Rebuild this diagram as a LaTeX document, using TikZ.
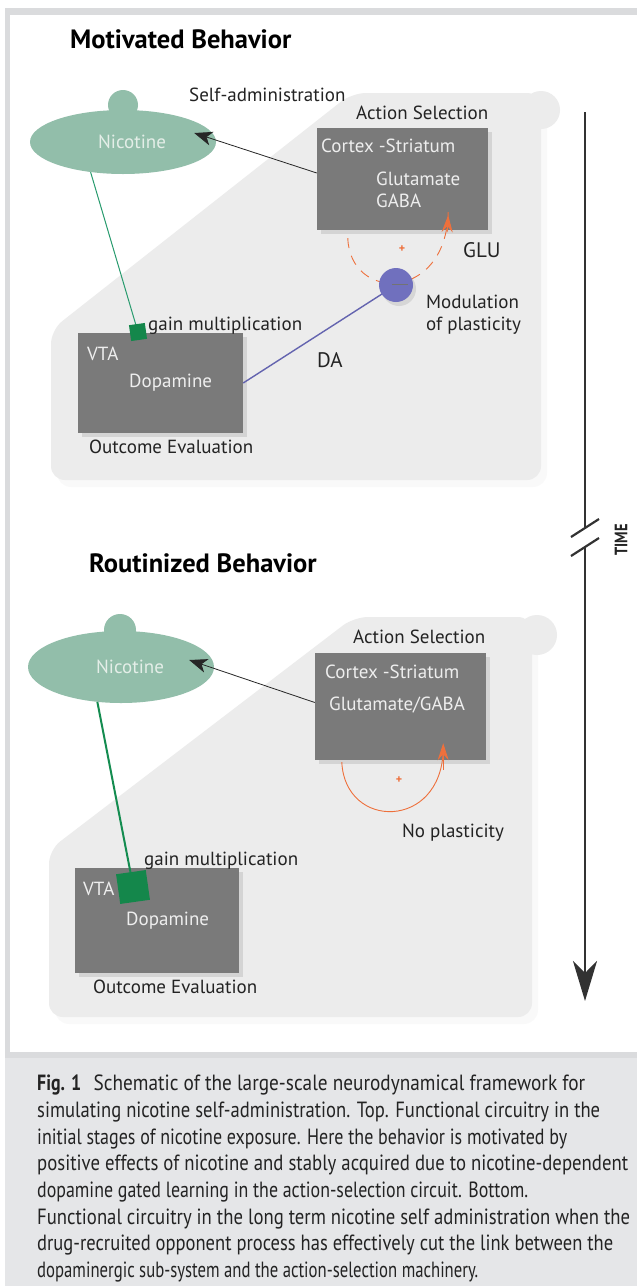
\documentclass[tikz,border=0pt]{standalone}
\usepackage{fontspec}
\usepackage{graphicx}
\setmainfont{PT Sans}
\usetikzlibrary{arrows.meta,shapes.geometric,shadows,calc}
\definecolor{nicgreen}{RGB}{146,190,170}
\definecolor{nictext}{RGB}{228,238,232}
\definecolor{boxgray}{RGB}{122,122,122}
\definecolor{boxtext}{RGB}{238,238,238}
\definecolor{bgshape}{RGB}{236,236,236}
\definecolor{orangec}{RGB}{238,112,60}
\definecolor{modblue}{RGB}{112,112,190}
\definecolor{dablue}{RGB}{100,100,175}
\definecolor{glinea}{RGB}{40,155,110}
\definecolor{glineb}{RGB}{20,140,80}
\definecolor{sqgreen}{RGB}{20,135,75}
\definecolor{framec}{RGB}{218,219,221}
\definecolor{capbg}{RGB}{229,230,232}
\definecolor{labelc}{RGB}{35,35,35}
\definecolor{timec}{RGB}{50,50,50}
\newcommand\lblf{\fontsize{19}{22}\selectfont}
\newcommand\bigf{\fontsize{21}{25}\selectfont}
\newcommand\titf{\fontsize{26.5}{30}\selectfont\bfseries}
\newcommand\capf{\fontsize{22}{26}\selectfont}
\newcommand\capline[2]{\resizebox{#1pt}{\height}{#2}}
\begin{document}
\begin{tikzpicture}[x=1pt,y=-1pt,
  lbl/.style={inner sep=0pt, anchor=base west, font=\lblf, text=labelc},
  biglbl/.style={lbl, font=\bigf},
  boxlbl/.style={lbl, text=boxtext},
  title/.style={inner sep=0pt, anchor=base west, font=\titf, text=black},
  caption/.style={inner sep=0pt, anchor=base west, font=\capf, text=labelc},
  darkbox/.style={rectangle, fill=boxgray, draw=none, inner sep=0pt,
    drop shadow={opacity=0.22, shadow xshift=4pt, shadow yshift=-4pt}},
  nicell/.style={ellipse, fill=nicgreen, draw=none, inner sep=0pt},
  bgfill/.style={fill=bgshape, rounded corners=14pt,
    drop shadow={opacity=0.045, shadow xshift=6pt, shadow yshift=-7pt}},
  sarrow/.style={draw=black!85, line width=0.8pt,
    -{Stealth[length=18pt, width=14pt, inset=5pt]}},
  orarrow/.style={draw=orangec, line width=0.9pt,
    -{Stealth[length=17pt, width=11pt, inset=6pt, fill=orangec]}},
  gsq/.style={rectangle, fill=sqgreen, draw=none, inner sep=0pt},
  plus/.style={inner sep=0pt, text=orangec, font=\fontsize{12}{12}\selectfont\bfseries},
]
\useasboundingbox (0,0) rectangle (637,1286);
% frame and caption background
\fill[white] (0,0) rectangle (637,1286);
\fill[framec] (4.5,8) rectangle (637,15);
\fill[framec] (4.5,8) rectangle (10,1058);
\fill[capbg] (4.5,1052) rectangle (637,1286);
\fill[framec] (4.5,1052) rectangle (637,1058);

% ===== top panel =====
\fill[bgfill] (352,93) -- (541,93) -- (541,480) -- (51,480) -- (51,330) -- cycle;
\fill[bgshape] (541,110) circle (19);

\node[title] (t1) at (70,48) {Motivated Behavior};

\fill[nicgreen] (123,105) circle (15);
\node[nicell, minimum width=186pt, minimum height=64pt] (nic1) at (123,142) {};
\node[lbl, text=nictext] (nl1) at (98,148) {Nicotine};
\node[lbl] (sa1) at (189,101) {Self-administration};
\node[lbl] (as1) at (356,119) {Action Selection};

\node[darkbox, minimum width=171pt, minimum height=102pt] (cs1) at (402.5,179) {};
\node[boxlbl] (cst1) at (321,152) {Cortex -Striatum};
\node[boxlbl] (glu1) at (376,185) {Glutamate};
\node[boxlbl] (gaba1) at (376,207) {GABA};

\draw[sarrow] ([yshift=6pt]cs1.west) -- ([xshift=-22pt,yshift=9pt]nic1.east);

\draw[orangec, line width=0.9pt, dash pattern=on 10pt off 8pt]
  ($(cs1.south west)+(31,8)$) .. controls (350,302) and (446,302) .. ($(cs1.south east)+(-40,-18)$);
\draw[orarrow] ($(cs1.south east)+(-41,2)$) -- ($(cs1.south east)+(-40,-15)$);
\node[plus] (p1) at (402,249) {+};
\node[biglbl] (glul) at (463,257) {GLU};

\node[darkbox, minimum width=165pt, minimum height=100pt] (vta1) at (160.5,383) {};
\node[boxlbl] (vtal1) at (87,360) {VTA};
\node[boxlbl] (dop1) at (129,387) {Dopamine};
\node[lbl] (oe1) at (89,453) {Outcome Evaluation};

\draw[dablue, line width=1.4pt] (vta1.east) -- (396,285);
\node[circle, fill=modblue, minimum size=34pt, inner sep=0pt,
  drop shadow={opacity=0.2, shadow xshift=3pt, shadow yshift=-4pt}] (mod1) at (396,285) {};
\draw[black!55, line width=0.5pt] ($(mod1.center)+(-4,-1)$) -- ($(mod1.center)+(12,-1)$);
\node[lbl] (modl) at (426,308) {Modulation};
\node[lbl] (modl2) at (426,330) {of plasticity};
\node[biglbl] (dal) at (317,367) {DA};

\draw[glinea, line width=1pt] (nic1.223) -- (138,332);
\node[gsq, minimum size=16pt, rotate=8] (sq1) at (138,332) {};
\node[lbl] (gm1) at (148,330) {gain multiplication};

% ===== time axis =====
\coordinate (tTop) at (585,112);
\coordinate (tB1) at (585,529);
\coordinate (tB2) at (585,547);
\coordinate (tEnd) at (585,1001);
\draw[timec, line width=2.6pt] (tTop) -- (tB1);
\draw[timec, line width=2.6pt, -{Stealth[length=40pt, width=24pt, inset=12pt]}] (tB2) -- (tEnd);
\draw[timec, line width=2.2pt] (571,537) -- (599,519);
\draw[timec, line width=2.2pt] (571,556) -- (599,538);
\node[inner sep=0pt, rotate=90, text=labelc, font=\fontsize{18}{18}\selectfont\bfseries] (time) at (621,540) {\scalebox{0.8}[1]{TIME}};

% ===== bottom panel =====
\fill[bgfill] (354,617) -- (532,617) -- (532,1017) -- (49,1017) -- (49,850) -- cycle;
\fill[bgshape] (537,635) circle (20);

\node[title] (t2) at (89,572) {Routinized Behavior};

\fill[nicgreen] (120,630) circle (16);
\node[nicell, minimum width=186pt, minimum height=72pt] (nic2) at (121,667) {};
\node[lbl, text=nictext] (nl2) at (96,673) {Nicotine};
\node[lbl] (as2) at (353,643) {Action Selection};

\node[darkbox, minimum width=171pt, minimum height=107pt] (cs2) at (400.5,706.5) {};
\node[boxlbl] (cst2) at (325,678) {Cortex -Striatum};
\node[boxlbl] (gg2) at (329,710) {Glutamate/GABA};

\draw[sarrow] ([yshift=4pt]cs2.west) -- ([xshift=-25pt,yshift=7pt]nic2.east);

\draw[orangec, line width=0.9pt]
  ($(cs2.south west)+(27,2)$) .. controls (345,830) and (441,830) .. ($(cs2.south east)+(-43,-10)$);
\draw[orarrow] ($(cs2.south east)+(-43,10)$) -- ($(cs2.south east)+(-43,-17)$);
\node[plus] (p2) at (399,780) {+};
\node[lbl] (np) at (402,837) {No plasticity};

\node[darkbox, minimum width=164pt, minimum height=105pt] (vta2) at (157,920.5) {};
\node[boxlbl] (vtal2) at (83,895) {VTA};
\node[boxlbl] (dop2) at (126,925) {Dopamine};
\node[lbl] (oe2) at (93,993) {Outcome Evaluation};

\draw[glineb, line width=2pt] (nic2.236) -- (131,875);
\node[gsq, minimum size=30pt, rotate=8] (sq2) at (133,887) {};
\node[lbl] (gm2) at (144,865) {gain multiplication};

% ===== caption =====
\node[caption, font=\capf\bfseries] (fig) at (37,1090.7) {\resizebox{44pt}{\height}{Fig. 1}};
\node[caption] (c1) at (93.5,1090.7) {\capline{491.5}{Schematic of the large-scale neurodynamical framework for}};
\node[caption] (c2) at (37,1117.3) {\capline{563}{simulating nicotine self-administration. Top. Functional circuitry in the}};
\node[caption] (c3) at (37,1144) {\capline{530}{initial stages of nicotine exposure. Here the behavior is motivated by}};
\node[caption] (c4) at (37,1170.7) {\capline{591}{positive effects of nicotine and stably acquired due to nicotine-dependent}};
\node[caption] (c5) at (37,1197.3) {\capline{491}{dopamine gated learning in the action-selection circuit. Bottom.}};
\node[caption] (c6) at (37,1224) {\capline{593}{Functional circuitry in the long term nicotine self administration when the}};
\node[caption] (c7) at (37,1250.7) {\capline{576}{drug-recruited opponent process has effectively cut the link between the}};
\node[caption] (c8) at (37,1277.3) {\capline{441}{dopaminergic sub-system and the action-selection machinery.}};
\end{tikzpicture}
\end{document}
